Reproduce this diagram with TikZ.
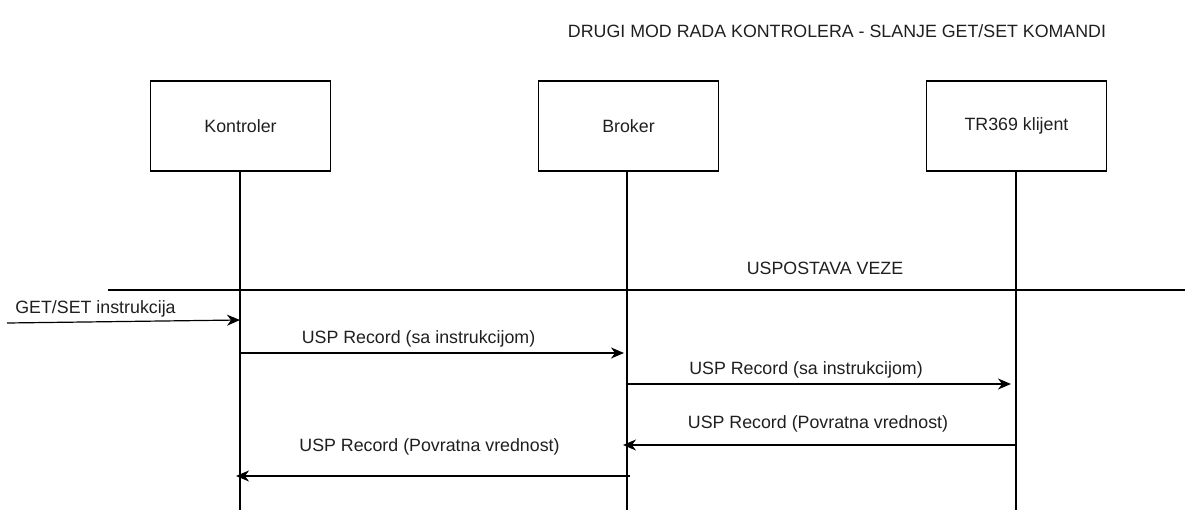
\documentclass[tikz,border=0pt]{standalone}
\usepackage{fontspec}
\setmainfont{Liberation Sans}
\usetikzlibrary{arrows.meta}
\begin{document}
\begin{tikzpicture}[x=1pt,y=-1pt,
  txt/.style={font=\fontsize{17.8}{20}\selectfont, text=black!88, inner sep=0pt},
  actor/.style={draw, line width=1.3pt, minimum width=180pt, minimum height=90pt,
    txt, inner sep=0pt},
  lifeline/.style={line width=1.1pt},
  msg/.style={line width=1.2pt, -{Stealth[length=13pt,width=11pt,inset=4pt]}}]
  \useasboundingbox (0,0) rectangle (1185,510);

  % title
  \node[txt] (title) at (837,31) {DRUGI MOD RADA KONTROLERA - SLANJE GET/SET KOMANDI};

  % participants
  \node[actor] (kon) at (240.5,126) {Kontroler};
  \node[actor] (bro) at (628.5,126) {Broker};
  \node[actor] (tr)  at (1016.5,126) {TR369 klijent};

  % lifeline ends
  \coordinate (konEnd) at (240,510);
  \coordinate (broEnd) at (627,510);
  \coordinate (trEnd)  at (1016,510);
  \draw[lifeline] (kon.south -| konEnd) -- (konEnd);
  \draw[lifeline] (bro.south -| broEnd) -- (broEnd);
  \draw[lifeline] (tr.south -| trEnd) -- (trEnd);

  % connection established separator
  \coordinate (sepL) at (108,290);
  \coordinate (sepR) at (1185,290);
  \draw[line width=1.2pt] (sepL) -- (sepR);
  \node[txt] (sepLbl) at (825,268) {USPOSTAVA VEZE};

  % message anchor points on the lifelines
  \coordinate (in0) at (7,323);
  \coordinate (k0) at (240,320);
  \coordinate (k1) at (240,353);
  \coordinate (b1) at (624,353);
  \coordinate (b2) at (627,384);
  \coordinate (t2) at (1011,384);
  \coordinate (t3) at (1016,445);
  \coordinate (b3) at (623,445);
  \coordinate (b4) at (630,476);
  \coordinate (k4) at (236,476);

  % messages
  \draw[msg] (in0) -- (k0);
  \node[txt] (m0) at (95.5,309) {GET/SET instrukcija};
  \draw[msg] (k1) -- (b1);
  \node[txt] (m1) at (418.5,339) {USP Record (sa instrukcijom)};
  \draw[msg] (b2) -- (t2);
  \node[txt] (m2) at (806,370) {USP Record (sa instrukcijom)};
  \draw[msg] (t3) -- (b3);
  \node[txt] (m3) at (818,424) {USP Record (Povratna vrednost)};
  \draw[msg] (b4) -- (k4);
  \node[txt] (m4) at (429.5,447) {USP Record (Povratna vrednost)};
\end{tikzpicture}
\end{document}
